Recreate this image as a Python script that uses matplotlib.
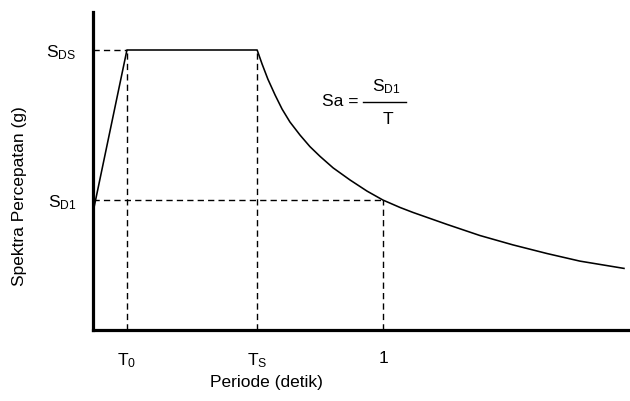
import matplotlib
matplotlib.use("Agg")
import matplotlib.pyplot as plt

plt.rcParams["font.family"] = ["Liberation Sans", "DejaVu Sans"]
plt.rcParams["mathtext.fontset"] = "custom"
plt.rcParams["mathtext.rm"] = "Liberation Sans"
plt.rcParams["mathtext.it"] = "Liberation Sans:italic"

# key points of the design spectrum
T0 = 0.117
TS = 0.566
T1 = 1.0
SDS = 1.0
SD1 = 0.464

# spectrum curve
period = [0.0, 0.117, 0.566, 0.583, 0.603, 0.628, 0.652, 0.679, 0.714,
          0.748, 0.783, 0.828, 0.886, 0.945, 1.0, 1.059, 1.103, 1.221,
          1.334, 1.448, 1.566, 1.679, 1.831]
sa = [0.42, 1.0, 1.0, 0.950, 0.896, 0.839, 0.789, 0.743, 0.696,
      0.655, 0.620, 0.579, 0.536, 0.496, 0.464, 0.4375, 0.420, 0.377,
      0.3375, 0.304, 0.273, 0.246, 0.220]

xtick_pos = [T0, TS, T1]
xtick_labels = [r"$\mathrm{T_0}$", r"$\mathrm{T_S}$", "1"]
ytick_pos = [SD1, SDS]
ytick_labels = [r"$\mathrm{S_{D1}}$", r"$\mathrm{S_{DS}}$"]

W, H = 630, 401
fig = plt.figure(figsize=(W / 100, H / 100), dpi=100)
ax = fig.add_axes([93 / W, (H - 330) / H, (628 - 93) / W, (330 - 12) / H])
ax.set_xlim(0, (628 - 93) / 290)
ax.set_ylim(0, (330 - 12) / 280)

ax.plot(period, sa, color="black", lw=1.15, solid_joinstyle="round")

dash = dict(color="black", lw=1.0, dashes=(4.5, 3))
ax.plot([0, T0], [SDS, SDS], **dash)
ax.plot([T0, T0], [0, SDS], **dash)
ax.plot([TS, TS], [0, SDS], **dash)
ax.plot([0, T1], [SD1, SD1], **dash)
ax.plot([T1, T1], [0, SD1], **dash)

for side in ["top", "right"]:
    ax.spines[side].set_visible(False)
for side in ["left", "bottom"]:
    ax.spines[side].set_linewidth(2.3)
    ax.spines[side].set_zorder(5)

ax.set_xticks(xtick_pos)
ax.set_xticklabels(xtick_labels, fontsize=12.5)
ax.set_yticks(ytick_pos)
ax.set_yticklabels(ytick_labels, fontsize=12.5)
ax.tick_params(axis="x", length=0, pad=15)
ax.tick_params(axis="y", length=0, pad=12)

fig.text(266 / W, 1 - 383 / H, "Periode (detik)", fontsize=12.5,
         ha="center", va="center")
fig.text(20 / W, 1 - 196 / H, "Spektra Percepatan (g)", fontsize=12.5,
         ha="center", va="center", rotation=90)

# formula Sa = SD1 / T
fig.text(340 / W, 1 - 101 / H, "Sa =", fontsize=12.5, ha="center",
         va="center")
fig.text(386 / W, 1 - 87 / H, r"$\mathrm{S_{D1}}$", fontsize=12.5,
         ha="center", va="center")
fig.text(388 / W, 1 - 120 / H, "T", fontsize=12.5, ha="center",
         va="center")
fig.add_artist(plt.Line2D([363 / W, 406 / W], [1 - 101.5 / H, 1 - 101.5 / H],
                          color="black", lw=1.0))

fig.savefig("out.png", dpi=100)
